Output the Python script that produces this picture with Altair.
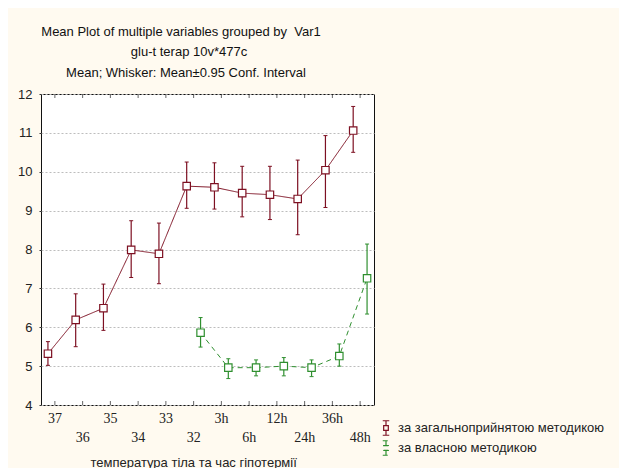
import altair as alt
import pandas as pd

# ---- data ----
categories = ["37", "36", "35", "34", "33", "32", "3h", "6h", "12h", "24h", "36h", "48h"]
series_names = ["за загальноприйнятою методикою", "за власною методикою"]

red_cats = categories
red_mean = [5.32, 6.19, 6.49, 7.99, 7.89, 9.63, 9.60, 9.45, 9.41, 9.30, 10.04, 11.06]
red_lo = [5.02, 5.50, 5.92, 7.28, 7.12, 9.06, 9.04, 8.84, 8.77, 8.38, 9.08, 10.50]
red_hi = [5.63, 6.86, 7.11, 8.74, 8.68, 10.25, 10.23, 10.14, 10.14, 10.30, 10.93, 11.68]

green_cats = ["32", "3h", "6h", "12h", "24h", "36h", "48h"]
green_mean = [5.86, 4.96, 4.96, 5.00, 4.96, 5.26, 7.26]
green_lo = [5.49, 4.68, 4.75, 4.75, 4.73, 5.00, 6.34]
green_hi = [6.25, 5.19, 5.16, 5.22, 5.16, 5.57, 8.14]

title_lines = [
    "Mean Plot of multiple variables grouped by\u00a0\u00a0Var1",
    "glu-t terap 10v*477c",
    "Mean; Whisker: Mean±0.95 Conf. Interval",
]
x_title = "температура тіла та час гіпотермії"
y_values = [4, 5, 6, 7, 8, 9, 10, 11, 12]

RED = "#7d1022"
GREEN = "#2f8f2f"
FONT = "Liberation Sans"
NARROW = "Liberation Sans Narrow"

rows = []
for c, m, lo, hi in zip(red_cats, red_mean, red_lo, red_hi):
    rows.append({"cat": c, "series": series_names[0], "mean": m, "lo": lo, "hi": hi})
for c, m, lo, hi in zip(green_cats, green_mean, green_lo, green_hi):
    rows.append({"cat": c, "series": series_names[1], "mean": m, "lo": lo, "hi": hi})
df = pd.DataFrame(rows)
ticks_df = pd.DataFrame({"cat": categories})

W, H = 333, 311

odd_test = "indexof(" + str(categories).replace('"', "'") + ", datum.value) % 2 == 1"

x_enc = alt.X(
    "cat:O",
    sort=categories,
    scale=alt.Scale(domain=categories, paddingInner=0, paddingOuter=0),
    axis=alt.Axis(
        title=x_title,
        labelAngle=0,
        ticks=False,
        domain=False,
        grid=False,
        labelFont=NARROW,
        labelFontSize=14,
        labelColor="#222222",
        labelPadding={"condition": {"test": odd_test, "value": 25}, "value": 6},
        titleFont=FONT,
        titleFontSize=13,
        titleFontWeight="normal",
        titleColor="#222222",
        titleAnchor="start",
        titleX=49,
        titleY=51,
        titleBaseline="top",
    ),
)
xoff = alt.XOffset("series:N", scale=alt.Scale(domain=series_names, paddingInner=0, paddingOuter=0))

y_scale = alt.Scale(domain=[4, 12], nice=False, zero=False)
y_axis = alt.Axis(
    title=None,
    values=y_values,
    labelOverlap=False,
    tickSize=2,
    tickColor="#333333",
    labelPadding=7,
    labelFont=FONT,
    labelFontSize=13,
    labelColor="#222222",
    domain=False,
    grid=True,
    gridColor="#bdbdbd",
    gridDash=[2, 2],
    gridWidth=1,
)

legend_symbol = "M-0.32,-0.32H0.32V0.32H-0.32Z M0,-1V-0.32 M0,0.32V1 M-0.45,-1H0.45 M-0.45,1H0.45"
legend = alt.Legend(
    title=None,
    orient="none",
    legendX=337,
    legendY=326,
    symbolType=legend_symbol,
    symbolSize=210,
    symbolStrokeWidth=1.2,
    symbolFillColor="white",
    labelFont=FONT,
    labelFontSize=13,
    labelColor="#222222",
    labelOffset=4,
    labelLimit=400,
    rowPadding=0,
    padding=0,
)
color_enc = alt.Color("series:N", scale=alt.Scale(domain=series_names, range=[RED, GREEN]), legend=legend)

base = alt.Chart(df)

lines = base.mark_line(strokeWidth=1).encode(
    x=x_enc,
    xOffset=xoff,
    y=alt.Y("mean:Q", scale=y_scale, axis=y_axis),
    color=color_enc,
    strokeDash=alt.StrokeDash(
        "series:N", scale=alt.Scale(domain=series_names, range=[[1, 0], [5, 4]]), legend=None
    ),
)

whiskers = base.mark_rule(strokeWidth=1.2).encode(
    x=x_enc, xOffset=xoff, y=alt.Y("lo:Q", scale=y_scale, axis=y_axis), y2="hi:Q", color=color_enc
)
cap_path = "M-1,0H1"
cap_lo = base.mark_point(shape=cap_path, size=16, filled=False, strokeWidth=1, opacity=1).encode(
    x=x_enc, xOffset=xoff, y=alt.Y("lo:Q", scale=y_scale, axis=y_axis), color=color_enc
)
cap_hi = base.mark_point(shape=cap_path, size=16, filled=False, strokeWidth=1, opacity=1).encode(
    x=x_enc, xOffset=xoff, y=alt.Y("hi:Q", scale=y_scale, axis=y_axis), color=color_enc
)
points = base.mark_point(shape="square", size=55, filled=False, fill="white", fillOpacity=1, strokeWidth=1.2, opacity=1).encode(
    x=x_enc, xOffset=xoff, y=alt.Y("mean:Q", scale=y_scale, axis=y_axis), color=color_enc
)

tick_base = alt.Chart(ticks_df)
ticks_bottom = tick_base.mark_tick(orient="vertical", size=4, thickness=1, color="#222222").encode(
    x=x_enc, y=alt.datum(4, scale=y_scale, axis=y_axis), yOffset=alt.value(-2)
)
ticks_top = tick_base.mark_tick(orient="vertical", size=4, thickness=1, color="#222222").encode(
    x=x_enc, y=alt.datum(12, scale=y_scale, axis=y_axis), yOffset=alt.value(2)
)

title_df = pd.DataFrame({"t": title_lines, "i": [0, 1, 2]})
tx = [140, 148, 145]
ty = [-62, -42, -21]
fs = [13, 13, 13]
titles = [
    alt.Chart(title_df.iloc[[k]]).mark_text(
        font=FONT, fontSize=fs[k], color="#111111", align="center", baseline="middle"
    ).encode(text="t:N", x=alt.value(tx[k]), y=alt.value(ty[k]))
    for k in range(3)
]

chart = alt.layer(
    lines, whiskers, cap_lo, cap_hi, points, ticks_bottom, ticks_top, *titles
).resolve_scale(xOffset="shared").properties(
    width=W,
    height=H,
    background="#fffaf0",
    autosize=alt.AutoSizeParams(type="none"),
    padding={"left": 33, "top": 86, "right": 245, "bottom": 63},
).configure_view(
    fill="white", stroke="#111111", strokeWidth=1
)

chart.save("out.html", embed_options={"renderer": "svg", "actions": False})
